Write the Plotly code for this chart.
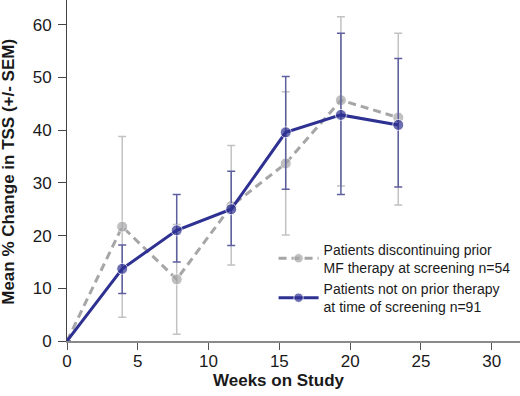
import plotly.graph_objects as go

# ---- data ----
weeks = [0, 3.9, 7.75, 11.6, 15.45, 19.35, 23.4]

disc_name = "Patients discontinuing prior<br>MF therapy at screening n=54"
disc_mean = [0, 21.7, 11.7, 25.6, 33.7, 45.7, 42.4]
disc_hi = [0, 38.8, 22.1, 37.1, 47.3, 61.5, 58.4]
disc_lo = [0, 4.5, 1.3, 14.4, 20.1, 29.4, 25.8]

naive_name = "Patients not on prior therapy<br>at time of screening n=91"
naive_mean = [0, 13.7, 21.0, 25.0, 39.6, 42.9, 41.0]
naive_hi = [0, 18.2, 27.8, 32.2, 50.2, 58.4, 53.6]
naive_lo = [0, 9.0, 15.0, 18.1, 28.8, 27.8, 29.2]

x_ticks = [0, 5, 10, 15, 20, 25, 30]
y_ticks = [0, 10, 20, 30, 40, 50, 60]

GRAY = "#a6a6a8"
GRAY_ERR = "#c2c2c4"
NAVY = "#2e3192"
NAVY_ERR = "#5d5f9f"
FONT = "Liberation Sans, Arial, sans-serif"

def up(m, h):
    return [a - b for a, b in zip(h, m)]

def down(m, l):
    return [b - a for a, b in zip(l, m)]

sizes = [0] + [11] * (len(weeks) - 1)

fig = go.Figure()
fig.add_trace(go.Scatter(
    x=weeks, y=disc_mean, name=disc_name, mode="lines+markers",
    line=dict(color=GRAY, width=3, dash="8px,5px"),
    marker=dict(color=GRAY, size=sizes),
    error_y=dict(type="data", symmetric=False, array=up(disc_mean, disc_hi),
                 arrayminus=down(disc_mean, disc_lo), color=GRAY_ERR,
                 thickness=1.5, width=4),
    cliponaxis=False,
))
fig.add_trace(go.Scatter(
    x=weeks, y=naive_mean, name=naive_name, mode="lines+markers",
    line=dict(color=NAVY, width=3),
    marker=dict(color=NAVY, size=sizes),
    error_y=dict(type="data", symmetric=False, array=up(naive_mean, naive_hi),
                 arrayminus=down(naive_mean, naive_lo), color=NAVY_ERR,
                 thickness=1.5, width=4),
    cliponaxis=False,
))

fig.update_layout(
    width=520, height=396,
    margin=dict(l=67, r=0, t=0, b=55, autoexpand=False),
    plot_bgcolor="white", paper_bgcolor="white",
    font=dict(family=FONT, size=16, color="#1a1a1a"),
    showlegend=True,
    legend=dict(
        x=0.456, y=0.315, xanchor="left", yanchor="top",
        font=dict(family=FONT, size=14, color="#1a1a1a"),
        bgcolor="rgba(0,0,0,0)", borderwidth=0, tracegroupgap=0,
        itemwidth=40,
    ),
    xaxis=dict(
        range=[0, 32], tickvals=x_ticks, ticktext=[str(v) for v in x_ticks],
        showgrid=False, zeroline=False, showline=True, linecolor="#8a8a8a",
        linewidth=2, ticks="outside", ticklen=7, tickcolor="#555555",
        tickwidth=1, tickfont=dict(size=17), automargin=False,
        ticklabelstandoff=-3,
    ),
    yaxis=dict(
        range=[0, 64.7], tickvals=y_ticks, ticktext=[str(v) for v in y_ticks],
        showgrid=False, zeroline=False, showline=True, linecolor="#444444",
        linewidth=1, ticks="outside", ticklen=8, tickcolor="#444444",
        tickwidth=1, tickfont=dict(size=17), automargin=False,
        ticklabelstandoff=3,
    ),
    annotations=[
        dict(text="<b>Weeks on Study</b>", xref="paper", yref="paper",
             x=0.467, y=-0.115, xanchor="center", yanchor="middle",
             showarrow=False, font=dict(size=17, family=FONT, color="#1a1a1a")),
        dict(text="<b>Mean % Change in TSS (+/- SEM)</b>", xref="paper", yref="paper",
             x=-0.129, y=0.495, xanchor="center", yanchor="middle", textangle=-90,
             showarrow=False, font=dict(size=17, family=FONT, color="#1a1a1a")),
    ],
)

fig.write_html("out.html", config={"displayModeBar": False},
               post_script="document.body.style.margin='0';")
